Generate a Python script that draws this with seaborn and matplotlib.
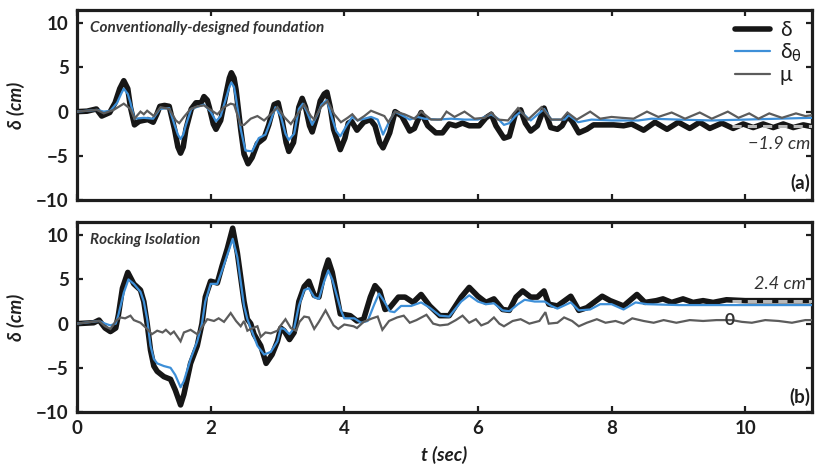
import numpy as np
import pandas as pd
import matplotlib
matplotlib.use("Agg")
import matplotlib.pyplot as plt
import seaborn as sns

# ---------------- data ----------------
# Panel (a): conventionally-designed foundation
t_a_delta = [0, 0.15, 0.29, 0.37, 0.49, 0.57, 0.64, 0.70, 0.76, 0.80, 0.86, 0.93, 0.99, 1.06, 1.14,
             1.20, 1.24, 1.31, 1.38, 1.46, 1.51, 1.55, 1.59, 1.63, 1.71, 1.78, 1.86, 1.90, 1.95, 1.98,
             2.04, 2.08, 2.15, 2.23, 2.28, 2.31, 2.35, 2.38, 2.45, 2.50, 2.56, 2.62, 2.70, 2.80, 2.87,
             2.95, 3.01, 3.07, 3.13, 3.17, 3.24, 3.32, 3.37, 3.42, 3.48, 3.52, 3.59, 3.64, 3.70, 3.74,
             3.79, 3.84, 3.94, 4.01, 4.06, 4.11, 4.19, 4.29, 4.39, 4.46, 4.53, 4.58, 4.68, 4.76, 4.86,
             4.98, 5.05, 5.15, 5.25, 5.37, 5.47, 5.57, 5.67, 5.77, 5.87, 6.02, 6.12, 6.20, 6.27, 6.39,
             6.47, 6.56, 6.64, 6.71, 6.79, 6.89, 6.99, 7.09, 7.19, 7.26, 7.34, 7.41, 7.51, 7.63, 7.73,
             7.88, 8.03, 8.18, 8.30, 8.48, 8.65, 8.83, 9.00, 9.17, 9.32, 9.47, 9.65, 9.82, 9.97, 10.12,
             10.27, 10.42, 10.57, 10.72, 10.87, 11.0]
a_delta = [0, 0.05, 0.3, -0.5, -0.1, 1.0, 2.6, 3.5, 2.6, 0.5, -1.5, -1.1, -1.0, -0.9, -1.2,
           -0.2, 0.6, 0.7, 0.6, -2.0, -4.0, -4.7, -4.0, -2.0, 0.3, 1.0, 1.0, 1.7, 1.3, 0.5,
           -1.4, -2.0, -1.0, 2.0, 3.8, 4.4, 3.8, 2.5, -2.0, -4.8, -5.9, -5.2, -3.6, -3.0, -1.5,
           0.8, 1.0, -1.0, -3.5, -4.5, -3.5, 0.5, 1.5, 0.5, -1.6, -2.3, -0.5, 1.2, 2.0, 2.2,
           0.5, -2.0, -4.3, -3.0, -1.3, -1.1, -2.1, -1.2, -0.9, -1.6, -3.5, -4.1, -2.4, 0.0, -0.5,
           -2.2, -1.9, -0.1, -1.6, -2.4, -2.4, -1.4, -1.6, -1.3, -1.6, -1.6, -0.7, -0.3, -1.6, -3.0,
           -2.8, -0.3, 0.2, -1.3, -2.2, -1.6, 0.4, -1.8, -2.0, -1.6, -0.5, -1.1, -2.4, -2.0, -1.5,
           -1.5, -1.5, -1.6, -1.4, -2.1, -1.2, -2.0, -1.2, -1.9, -1.2, -1.9, -1.3, -1.9, -1.4, -1.8,
           -1.4, -1.8, -1.4, -1.8, -1.5, -1.7]

t_a_theta = [0, 0.3, 0.4, 0.5, 0.6, 0.66, 0.70, 0.76, 0.80, 0.86, 1.0, 1.14, 1.24, 1.38, 1.46,
             1.51, 1.55, 1.59, 1.63, 1.71, 1.9, 2.0, 2.08, 2.15, 2.23, 2.28, 2.31, 2.35, 2.38, 2.45,
             2.52, 2.62, 2.72, 2.82, 2.90, 2.97, 3.05, 3.12, 3.17, 3.25, 3.32, 3.38, 3.44, 3.52, 3.60,
             3.66, 3.74, 3.82, 3.88, 3.94, 4.04, 4.12, 4.20, 4.30, 4.40, 4.50, 4.58, 4.68, 4.76, 4.86,
             4.98, 5.10, 5.20, 5.40, 5.60, 5.80, 6.00, 6.10, 6.20, 6.30, 6.39, 6.47, 6.56, 6.64, 6.79,
             6.99, 7.10, 7.30, 7.36, 7.50, 7.70, 8.00, 8.40, 8.60, 9.00, 9.50, 10.0, 10.5, 11.0]
a_theta = [0, 0.2, 0.0, 0.1, 1.0, 2.0, 2.6, 2.0, 1.0, -0.8, -0.7, -0.8, 0.3, 0.4, -1.5,
           -2.6, -3.1, -2.6, -1.5, 0.3, 0.8, 0.0, -1.1, -0.5, 1.5, 2.8, 3.3, 2.8, 1.5, -2.0,
           -4.4, -4.5, -3.0, -2.6, -1.0, 0.5, -0.5, -2.5, -3.2, -2.5, 0.3, 0.9, 0.0, -1.5, -0.3,
           0.8, 1.3, -0.8, -2.2, -2.8, -1.5, -0.6, -1.0, -0.8, -0.6, -0.9, -2.6, -1.0, 0.0, -0.4,
           -0.9, -0.6, -0.8, -0.9, -0.8, -0.9, -0.9, -0.6, -0.3, -0.8, -1.5, -1.3, -0.5, 0.0, -1.0,
           0.3, -0.9, -0.9, -0.4, -1.2, -0.9, -1.0, -1.0, -0.8, -0.9, -1.0, -0.9, -0.8, -0.7]

t_a_mu = [0, 0.3, 0.4, 0.55, 0.70, 0.80, 0.86, 0.95, 1.0, 1.05, 1.15, 1.25, 1.38, 1.48, 1.53,
          1.60, 1.70, 1.80, 1.90, 2.0, 2.1, 2.2, 2.3, 2.35, 2.45, 2.5, 2.6, 2.7, 2.8, 2.9,
          3.0, 3.1, 3.2, 3.3, 3.4, 3.5, 3.55, 3.65, 3.75, 3.85, 3.95, 4.05, 4.12, 4.2, 4.3,
          4.4, 4.5, 4.6, 4.66, 4.76, 4.9, 5.05, 5.15, 5.3, 5.45, 5.53, 5.65, 5.8, 5.95, 6.1,
          6.2, 6.3, 6.45, 6.6, 6.75, 6.95, 7.1, 7.25, 7.34, 7.48, 7.68, 7.83, 8.0, 8.15, 8.33,
          8.53, 8.7, 8.9, 9.1, 9.32, 9.5, 9.74, 9.9, 10.06, 10.2, 10.36, 10.55, 10.76, 10.9, 11.0]
a_mu = [0, 0.2, -0.2, 0.2, 0.9, 0.3, -0.8, 0.0, -0.3, 0.1, -0.5, 0.5, 0.3, -1.0, -1.3,
        -0.6, 0.3, 0.6, 0.7, 0.2, -0.3, 0.5, 0.9, 0.8, -1.5, -1.5, -0.8, -0.5, -1.0, -0.3,
        0.5, -0.6, -1.4, -0.3, 0.8, -0.5, -0.9, 0.5, 1.2, -0.3, -1.2, -0.7, -0.3, -1.0, -0.5,
        0.1, -0.2, -0.5, -1.2, 0.0, -0.3, -0.8, 0.0, -0.9, -0.9, 0.0, -0.6, 0.0, -0.8, -0.7,
        -0.1, -0.9, -1.0, 0.4, -0.9, 0.5, -0.9, -0.9, -0.1, -0.9, 0.0, -0.8, -0.6, -0.7, -0.8,
        0.0, -0.6, -0.1, -0.8, -0.1, -0.8, 0.0, -0.7, -0.2, -0.8, -0.2, -0.7, -0.2, -0.5, -0.4]

# Panel (b): rocking isolation
t_b_delta = [0, 0.25, 0.33, 0.42, 0.50, 0.58, 0.62, 0.68, 0.76, 0.85, 0.95, 1.0, 1.05, 1.10, 1.15,
             1.20, 1.30, 1.40, 1.47, 1.55, 1.60, 1.70, 1.80, 1.87, 1.92, 2.0, 2.1, 2.17, 2.25, 2.33,
             2.40, 2.50, 2.55, 2.60, 2.65, 2.75, 2.83, 2.92, 3.0, 3.05, 3.10, 3.18, 3.25, 3.32, 3.40,
             3.47, 3.55, 3.62, 3.70, 3.76, 3.82, 3.94, 4.09, 4.19, 4.29, 4.39, 4.46, 4.53, 4.61, 4.68,
             4.81, 4.91, 5.03, 5.15, 5.28, 5.43, 5.57, 5.75, 5.87, 6.0, 6.12, 6.24, 6.37, 6.47, 6.57,
             6.67, 6.79, 6.89, 6.99, 7.06, 7.19, 7.39, 7.51, 7.63, 7.86, 7.98, 8.18, 8.38, 8.50, 8.67,
             8.77, 8.90, 9.07, 9.22, 9.37, 9.52, 9.72, 10.0, 10.4, 10.8, 11.0]
b_delta = [0, 0.1, 0.4, -0.5, -0.9, -0.5, 1.0, 4.0, 5.8, 4.5, 3.8, 2.5, 0.0, -3.0, -4.8,
           -5.4, -6.0, -6.3, -7.5, -9.2, -8.0, -4.5, -2.5, 0.0, 3.0, 4.8, 4.6, 6.5, 8.5, 10.8,
           8.0, 2.5, 0.5, 0.0, -1.2, -2.5, -4.5, -3.5, -2.0, -0.5, -0.8, -1.8, -1.0, 2.5, 4.2,
           4.8, 3.2, 3.0, 5.8, 7.2, 5.8, 1.1, 0.9, 0.3, 0.5, 3.0, 4.3, 3.7, 1.6, 1.8,
           3.0, 3.0, 2.4, 3.3, 2.0, 0.9, 0.9, 3.0, 4.1, 3.1, 2.4, 2.8, 1.6, 1.5, 3.0,
           3.7, 3.0, 3.0, 3.7, 2.2, 2.0, 3.1, 1.5, 1.8, 3.1, 2.6, 2.0, 3.3, 2.4, 2.6,
           2.8, 2.4, 2.8, 2.4, 2.6, 2.4, 2.7, 2.6, 2.6, 2.6, 2.6]

t_b_theta = [0, 0.33, 0.42, 0.50, 0.58, 0.62, 0.70, 0.77, 0.85, 0.95, 1.0, 1.05, 1.10, 1.15, 1.20,
             1.30, 1.40, 1.47, 1.55, 1.60, 1.70, 1.80, 1.87, 1.92, 2.0, 2.1, 2.17, 2.25, 2.33, 2.40,
             2.50, 2.55, 2.60, 2.70, 2.80, 2.90, 3.0, 3.05, 3.10, 3.18, 3.25, 3.32, 3.40, 3.47, 3.55,
             3.62, 3.70, 3.76, 3.82, 3.95, 4.0, 4.15, 4.25, 4.35, 4.45, 4.52, 4.60, 4.68, 4.75, 4.85,
             5.0, 5.15, 5.28, 5.43, 5.57, 5.75, 5.87, 6.0, 6.12, 6.24, 6.37, 6.47, 6.60, 6.70, 6.85,
             7.0, 7.1, 7.19, 7.39, 7.51, 7.68, 7.83, 8.0, 8.18, 8.36, 8.53, 9.0, 9.5, 10.0, 10.5, 11.0]
b_theta = [0, 0.3, 0.0, -0.2, 0.0, 1.0, 3.5, 5.0, 4.5, 3.6, 2.5, 0.5, -2.5, -4.0, -4.5,
           -4.8, -5.0, -5.8, -7.2, -6.5, -4.0, -2.0, 0.0, 2.5, 4.5, 4.5, 6.0, 7.8, 9.6, 7.5,
           2.0, 0.5, -0.5, -2.5, -3.5, -3.2, -2.0, -0.5, -0.6, -1.2, -0.5, 2.0, 3.8, 4.0, 3.0,
           2.8, 4.8, 6.0, 5.0, 1.5, 0.6, 0.6, 0.1, 0.3, 2.2, 3.4, 2.5, 1.4, 1.3, 2.0,
           2.0, 2.4, 1.8, 0.9, 0.8, 2.5, 3.2, 2.5, 2.2, 2.3, 1.5, 1.4, 2.2, 2.7, 2.5,
           2.5, 2.0, 1.7, 2.4, 1.5, 1.6, 2.2, 2.2, 1.6, 2.4, 2.2, 2.1, 2.1, 2.1, 2.1, 2.1]

t_b_mu = [0, 0.33, 0.42, 0.50, 0.58, 0.65, 0.72, 0.80, 0.85, 0.95, 1.05, 1.12, 1.20, 1.28, 1.33,
          1.40, 1.45, 1.55, 1.60, 1.70, 1.80, 1.88, 1.95, 2.05, 2.12, 2.20, 2.30, 2.38, 2.45, 2.50,
          2.55, 2.60, 2.70, 2.75, 2.82, 2.90, 3.0, 3.05, 3.12, 3.20, 3.28, 3.33, 3.40, 3.47, 3.55,
          3.62, 3.72, 3.84, 3.91, 4.0, 4.14, 4.19, 4.29, 4.42, 4.50, 4.57, 4.67, 4.79, 4.89, 4.98,
          5.08, 5.23, 5.33, 5.43, 5.55, 5.67, 5.77, 5.87, 5.97, 6.05, 6.15, 6.24, 6.32, 6.39, 6.52,
          6.64, 6.77, 6.92, 7.01, 7.06, 7.19, 7.29, 7.41, 7.51, 7.63, 7.78, 7.91, 8.06, 8.18, 8.31,
          8.48, 8.63, 8.78, 8.97, 9.17, 9.37, 9.57, 9.80, 9.95, 10.1, 10.3, 10.5, 10.7, 10.9, 11.0]
b_mu = [0, 0.3, -0.3, -0.6, 0.3, 0.7, 0.6, 0.9, 0.4, 0.1, -0.6, -1.2, -0.8, -1.0, -0.7,
        -1.2, -0.9, -2.0, -1.0, -0.7, -1.2, -0.3, 0.5, 0.3, 0.6, 0.2, 1.2, 0.3, -0.3, 0.3,
        -0.8, -0.6, -0.3, -1.5, -1.0, -1.1, -0.8, -0.2, 0.5, -0.5, -0.8, 0.2, 0.8, 0.7, -0.6,
        0.2, 1.5, -0.2, -0.6, -0.1, -0.3, -0.5, 0.2, 0.6, 0.8, -0.7, 0.3, 0.7, 0.9, 0.1,
        0.4, 1.0, 0.0, -0.2, -0.1, 0.4, 0.9, 0.1, 0.5, -0.2, 0.1, 0.7, 0.0, -0.3, 0.3,
        0.5, 0.0, 0.3, 1.3, 0.0, 0.1, 0.7, 0.3, -0.3, 0.1, 0.5, 0.1, 0.3, 0.0, 0.6,
        0.3, 0.1, 0.4, 0.1, 0.4, 0.3, 0.4, 0.4, 0.2, 0.1, 0.4, 0.3, 0.1, 0.4, 0.4]

# residual markers (dashed lines at end of record)
residual_a = -1.6
residual_b = 2.55
residual_t = [9.8, 11.0]
residual_a_label = "\u22121.9 cm"
residual_b_label = "2.4 cm"
mu_b_label = "0"

panel_titles = ["Conventionally-designed foundation", "Rocking Isolation"]
panel_tags = ["(a)", "(b)"]
series_labels = ["\u03b4", "\u03b4$_\\mathrm{\\theta}$", "\u03bc"]
x_ticks = [0, 2, 4, 6, 8, 10]
y_ticks = [-10, -5, 0, 5, 10]

# ---------------- styling ----------------
sns.set_theme(style="white")
plt.rcParams["font.family"] = ["Lato", "DejaVu Sans"]
plt.rcParams["mathtext.fontset"] = "dejavusans"

C_DELTA = "#161616"
C_THETA = "#3d8fd8"
C_MU = "#5c5c5c"
C_TEXT = "#1e1e1e"

fig = plt.figure(figsize=(8.15, 4.67), dpi=100)
W, H = 815, 467
left_px, right_px = 77, 812
axA = fig.add_axes([left_px / W, 1 - 200 / H, (right_px - left_px) / W, 190 / H])
axB = fig.add_axes([left_px / W, 1 - 412 / H, (right_px - left_px) / W, 190 / H])

panels = [
    (axA, (t_a_delta, a_delta), (t_a_theta, a_theta), (t_a_mu, a_mu)),
    (axB, (t_b_delta, b_delta), (t_b_theta, b_theta), (t_b_mu, b_mu)),
]

for i, (ax, d, th, mu) in enumerate(panels):
    df_d = pd.DataFrame({"t": d[0], "v": d[1]})
    df_th = pd.DataFrame({"t": th[0], "v": th[1]})
    df_mu = pd.DataFrame({"t": mu[0], "v": mu[1]})
    sns.lineplot(data=df_d, x="t", y="v", ax=ax, color=C_DELTA, linewidth=4.0,
                 estimator=None, sort=False, label=series_labels[0],
                 solid_joinstyle="round", solid_capstyle="round", zorder=3)
    sns.lineplot(data=df_th, x="t", y="v", ax=ax, color=C_THETA, linewidth=1.6,
                 estimator=None, sort=False, label=series_labels[1],
                 solid_joinstyle="round", zorder=4)
    sns.lineplot(data=df_mu, x="t", y="v", ax=ax, color=C_MU, linewidth=1.6,
                 estimator=None, sort=False, label=series_labels[2],
                 solid_joinstyle="miter", zorder=5)

    res = residual_a if i == 0 else residual_b
    ax.plot(residual_t, [res, res], color="#b8b8b8", linewidth=2.2,
            dashes=(3, 2), zorder=6)

    ax.set_xlim(0, 11)
    ax.set_ylim(-10, 11.5)
    ax.set_xticks(x_ticks)
    ax.set_yticks(y_ticks)
    ax.set_yticklabels([("\u2212%d" % -v) if v < 0 else str(v) for v in y_ticks])
    ax.tick_params(direction="in", length=4.5, width=1.6, color=C_TEXT,
                   top=True, right=True, bottom=True, left=True,
                   labelsize=13.5, labelcolor=C_TEXT, pad=6)
    for lab in ax.get_yticklabels() + ax.get_xticklabels():
        lab.set_fontweight("bold")
    for sp in ax.spines.values():
        sp.set_visible(True)
        sp.set_linewidth(2.3)
        sp.set_color(C_TEXT)
    ax.set_ylabel("\u03b4 (cm)", fontsize=13.5, fontweight="bold", fontstyle="italic",
                  color=C_TEXT)
    ax.yaxis.set_label_coords(-0.071, 0.5)
    ax.set_xlabel("")
    ax.text(0.018, 0.905, panel_titles[i], transform=ax.transAxes, fontsize=11,
            fontweight="bold", fontstyle="italic", color="#333333", va="center", ha="left")
    ax.text(0.998, 0.09 if i == 0 else 0.08, panel_tags[i], transform=ax.transAxes,
            fontsize=13.5, fontweight="bold", color=C_TEXT, va="center", ha="right")

axA.set_xticklabels([])
axB.set_xticklabels([str(v) for v in x_ticks])
for lab in axB.get_xticklabels():
    lab.set_fontweight("bold")
axB.set_xlabel("t (sec)", fontsize=13.5, fontweight="bold", fontstyle="italic", color=C_TEXT)
axB.xaxis.set_label_coords(0.5, -0.18)

# legend only on top panel
leg = axA.legend(loc="upper right", bbox_to_anchor=(1.0, 1.0), frameon=False,
                 fontsize=15, handlelength=1.7, handletextpad=0.45, labelspacing=0.05,
                 borderaxespad=0.1)
for txt in leg.get_texts():
    txt.set_color(C_TEXT)
if axB.get_legend():
    axB.get_legend().remove()

# residual annotations
axA.text(10.97, -3.7, residual_a_label, fontsize=13, fontstyle="italic",
         color="#333333", ha="right", va="center")
axB.text(10.9, 4.5, residual_b_label, fontsize=13, fontstyle="italic",
         color="#333333", ha="right", va="center")
axB.text(9.76, 0.45, mu_b_label, fontsize=12.5, fontweight="bold",
         color="#333333", ha="center", va="center", zorder=7)

fig.savefig("out.png", dpi=100)
